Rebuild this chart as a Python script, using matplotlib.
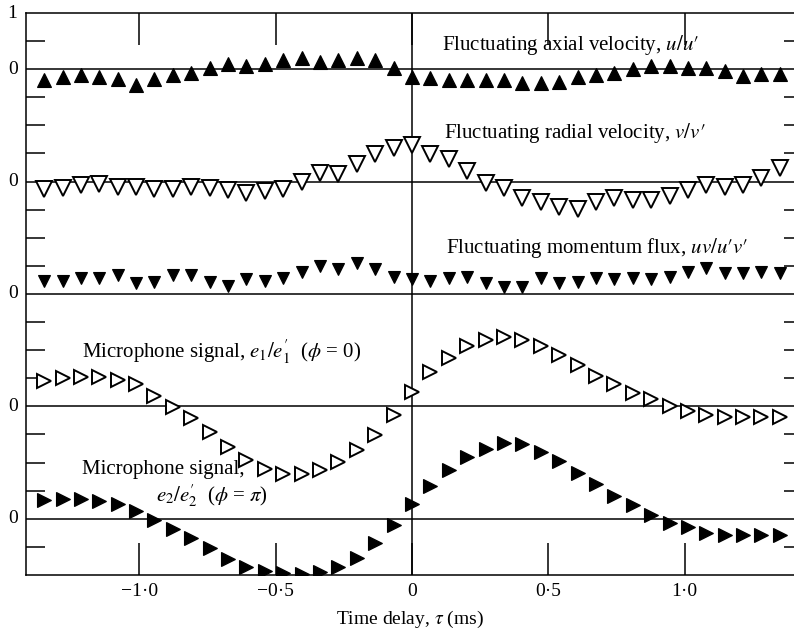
import matplotlib
matplotlib.use('Agg')
import matplotlib.pyplot as plt

plt.rcParams['font.family'] = ['Liberation Serif', 'DejaVu Serif']
plt.rcParams['mathtext.fontset'] = 'stix'

# %% data: correlation vs time delay (ms), one series per panel
tau = [-1.35, -1.2825, -1.215, -1.1475, -1.08, -1.0125, -0.945, -0.8775, -0.81, -0.7425,
       -0.675, -0.6075, -0.54, -0.4725, -0.405, -0.3375, -0.27, -0.2025, -0.135, -0.0675,
       0.0,
       0.0675, 0.135, 0.2025, 0.27, 0.3375, 0.405, 0.4725, 0.54, 0.6075, 0.675,
       0.7425, 0.81, 0.8775, 0.945, 1.0125, 1.08, 1.1475, 1.215, 1.2825, 1.35]

axial = [-0.19, -0.14, -0.11, -0.13, -0.18, -0.28, -0.18, -0.11, -0.06, 0.03,
         0.09, 0.06, 0.10, 0.17, 0.20, 0.13, 0.17, 0.20, 0.17, 0.02,
         -0.13,
         -0.16, -0.19, -0.19, -0.19, -0.19, -0.24, -0.24, -0.22, -0.14, -0.10,
         -0.06, 0.00, 0.05, 0.05, 0.02, 0.02, -0.04, -0.12, -0.08, -0.08]

radial = [-0.13, -0.12, -0.06, -0.04, -0.10, -0.10, -0.13, -0.13, -0.09, -0.12,
          -0.15, -0.20, -0.16, -0.13, 0.00, 0.15, 0.14, 0.31, 0.49, 0.59,
          0.66,
          0.49, 0.40, 0.18, -0.02, -0.12, -0.30, -0.36, -0.46, -0.48, -0.36,
          -0.30, -0.33, -0.33, -0.26, -0.15, -0.06, -0.10, -0.06, 0.07, 0.25]

momentum = [0.24, 0.23, 0.29, 0.28, 0.34, 0.19, 0.21, 0.33, 0.34, 0.22,
            0.14, 0.26, 0.23, 0.29, 0.39, 0.49, 0.45, 0.55, 0.44, 0.31,
            0.27,
            0.24, 0.28, 0.31, 0.20, 0.13, 0.13, 0.28, 0.20, 0.22, 0.28,
            0.26, 0.28, 0.26, 0.30, 0.40, 0.46, 0.37, 0.37, 0.39, 0.37]

mic1 = [0.46, 0.50, 0.52, 0.52, 0.47, 0.40, 0.18, -0.01, -0.21, -0.46,
        -0.72, -0.95, -1.12, -1.20, -1.20, -1.13, -0.99, -0.78, -0.51, -0.15,
        0.26,
        0.62, 0.87, 1.07, 1.18, 1.23, 1.18, 1.07, 0.91, 0.74, 0.54,
        0.40, 0.24, 0.13, 0.01, -0.09, -0.15, -0.18, -0.18, -0.18, -0.18]

mic2 = [0.33, 0.35, 0.35, 0.32, 0.26, 0.13, -0.03, -0.19, -0.35, -0.52,
        -0.72, -0.85, -0.92, -0.97, -0.98, -0.94, -0.85, -0.69, -0.43, -0.11,
        0.27,
        0.58, 0.87, 1.10, 1.25, 1.34, 1.33, 1.19, 1.03, 0.82, 0.62,
        0.41, 0.25, 0.07, -0.07, -0.15, -0.25, -0.29, -0.29, -0.29, -0.29]

offsets = [8, 6, 4, 2, 0]
x_ticks = [-1.0, -0.5, 0.0, 0.5, 1.0]
x_tick_labels = ['\u22121\u00b70', '\u22120\u00b75', '0', '0\u00b75', '1\u00b70']
y_ticks = [-0.5, 0.5, 1.0, 1.5, 2.5, 3.0, 3.5, 4.5, 5.0, 5.5, 6.5, 7.0, 7.5, 8.5]

# %% figure
fig = plt.figure(figsize=(7.94, 6.31), dpi=100)
ax = fig.add_axes([26 / 794, 56 / 631, 1 - 26 / 794, 562 / 631])
ax.set_xlim(-1.4165, 1.4018)
ax.set_ylim(-1.0, 9.0)

# zero lines for each panel and the tau = 0 line
for off in offsets:
    ax.axhline(off, color='black', lw=1.1, zorder=1)
ax.axvline(0, color='black', lw=1.1, zorder=1)

series = [
    (axial, 8, dict(marker='^', ms=9.5, mfc='black', mec='black', mew=0.8)),
    (radial, 6, dict(marker='v', ms=11, mfc='white', mec='black', mew=1.4)),
    (momentum, 4, dict(marker='v', ms=9, mfc='black', mec='black', mew=0.8)),
    (mic1, 2, dict(marker='>', ms=10.5, mfc='white', mec='black', mew=1.4)),
    (mic2, 0, dict(marker='>', ms=9.5, mfc='black', mec='black', mew=0.8)),
]
for vals, off, style in series:
    ax.plot(tau, [v + off for v in vals], ls='none', zorder=3, **style)

# text labels
fs = 15
ax.text(0.11, 8.43, "Fluctuating axial velocity, $u/u\u2032$", fontsize=fs, va='center')
ax.text(0.117, 6.86, "Fluctuating radial velocity, $v/v\u2032$", fontsize=fs, va='center')
ax.text(0.125, 4.82, "Fluctuating momentum flux, $uv/u\u2032v\u2032$", fontsize=fs, va='center')
ax.text(-1.21, 2.97, "Microphone signal, $e_1/e^{\\prime}_1$  ($\\phi$ = 0)", fontsize=fs, va='center')
ax.text(-1.21, 0.87, "Microphone signal,", fontsize=fs, va='center')
ax.text(-0.94, 0.42, "$e_2/e^{\\prime}_2$  ($\\phi$ = $\\pi$)", fontsize=fs, va='center')

# axes frame and ticks
ax.spines['right'].set_visible(False)
for s in ['left', 'top', 'bottom']:
    ax.spines[s].set_linewidth(1.1)

ax.set_xticks(x_ticks)
ax.set_xticklabels(x_tick_labels, fontsize=14)
ax.tick_params(axis='x', direction='in', length=23, width=1.1, top=True,
               bottom=True, pad=6)
ax.set_xlabel('Time delay, $\\tau$ (ms)', fontsize=14, labelpad=6)

ax.set_yticks(y_ticks)
ax.set_yticklabels([])
ax.tick_params(axis='y', direction='in', length=14, width=1.1, left=True,
               right=False)

# short ticks on the right edge
ax2 = ax.twinx()
ax2.set_ylim(ax.get_ylim())
ax2.set_yticks(y_ticks)
ax2.set_yticklabels([])
ax2.tick_params(axis='y', direction='in', length=7, width=1.1)
for s in ax2.spines.values():
    s.set_visible(False)

for lab_y, lab in [(9, '1'), (8, '0'), (6, '0'), (4, '0'), (2, '0'), (0, '0')]:
    ax.text(-0.011, lab_y, lab, transform=ax.get_yaxis_transform(),
            ha='right', va='center', fontsize=14)

fig.savefig('out.png', dpi=100)
